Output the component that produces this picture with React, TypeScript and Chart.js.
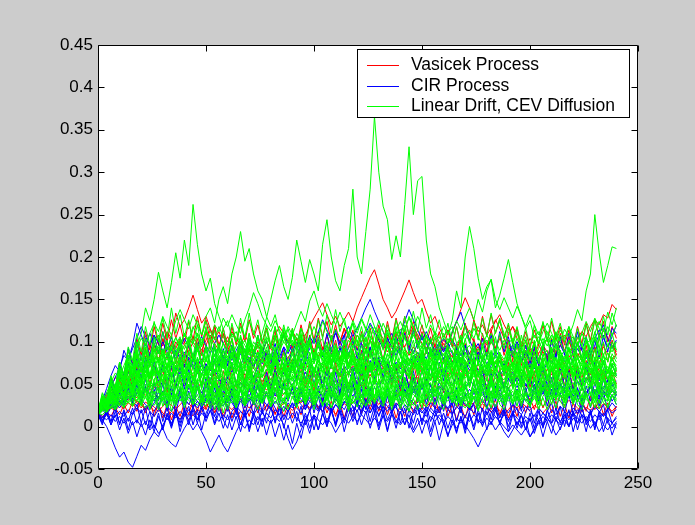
import React, { useEffect, useRef } from "react";
import { Chart, registerables } from "chart.js";

Chart.register(...registerables);

// ---- axes / labels ----
const timeSteps = [
  0, 2, 4, 6, 8, 10, 12, 14, 16, 18,
  20, 22, 24, 26, 28, 30, 32, 34, 36, 38,
  40, 42, 44, 46, 48, 50, 52, 54, 56, 58,
  60, 62, 64, 66, 68, 70, 72, 74, 76, 78,
  80, 82, 84, 86, 88, 90, 92, 94, 96, 98,
  100, 102, 104, 106, 108, 110, 112, 114, 116, 118,
  120, 122, 124, 126, 128, 130, 132, 134, 136, 138,
  140, 142, 144, 146, 148, 150, 152, 154, 156, 158,
  160, 162, 164, 166, 168, 170, 172, 174, 176, 178,
  180, 182, 184, 186, 188, 190, 192, 194, 196, 198,
  200, 202, 204, 206, 208, 210, 212, 214, 216, 218,
  220, 222, 224, 226, 228, 230, 232, 234, 236, 238,
  240,
];
const xTicks = [0, 50, 100, 150, 200, 250];
const yTicks = [-0.05, 0, 0.05, 0.1, 0.15, 0.2, 0.25, 0.3, 0.35, 0.4, 0.45];
const legendLabels = ["Vasicek Process", "CIR Process", "Linear Drift, CEV Diffusion"];
const legendColors = ["#ff0000", "#0000ff", "#00ff00"];

// ---- Linear Drift, CEV Diffusion paths (green) ----
const cev1 = [
  .015,.022,.030,.027,.038,.045,.040,.052,.048,.060,
  .055,.066,.058,.070,.063,.075,.068,.061,.072,.065,
  .078,.070,.082,.074,.066,.079,.071,.085,.077,.090,
  .082,.095,.086,.078,.092,.084,.100,.092,.110,.128,
  .150,.172,.190,.165,.150,.176,.220,.195,.170,.197,
  .180,.160,.215,.244,.200,.172,.160,.190,.210,.280,
  .200,.180,.230,.280,.366,.300,.260,.244,.197,.225,
  .200,.262,.330,.250,.290,.295,.220,.180,.165,.140,
  .125,.110,.118,.098,.105,.090,.096,.084,.092,.080,
  .088,.076,.082,.070,.078,.066,.074,.062,.070,.078,
  .068,.075,.064,.072,.060,.068,.056,.065,.072,.062,
  .070,.058,.066,.075,.064,.072,.060,.068,.056,.064,
  .060,
];
const cev2 = [
  .018,.025,.033,.029,.044,.052,.060,.056,.072,.095,
  .110,.140,.125,.150,.182,.160,.140,.170,.205,.175,
  .220,.190,.262,.215,.180,.160,.175,.145,.130,.115,
  .125,.105,.112,.095,.102,.088,.096,.080,.090,.078,
  .086,.074,.082,.070,.079,.066,.075,.084,.072,.080,
  .068,.077,.064,.073,.085,.076,.090,.082,.070,.078,
  .066,.075,.063,.072,.060,.069,.078,.066,.074,.062,
  .071,.080,.068,.077,.065,.074,.062,.070,.058,.067,
  .075,.064,.072,.060,.069,.057,.066,.074,.063,.071,
  .060,.068,.056,.065,.073,.062,.070,.058,.067,.055,
  .064,.072,.061,.069,.057,.066,.074,.063,.071,.060,
  .068,.057,.065,.073,.062,.070,.058,.066,.055,.063,
  .058,
];
const cev3 = [
  .016,.024,.020,.031,.038,.034,.045,.052,.047,.058,
  .066,.060,.072,.084,.076,.090,.082,.096,.105,.092,
  .110,.098,.115,.125,.108,.130,.140,.122,.150,.165,
  .145,.180,.200,.230,.195,.210,.180,.160,.150,.130,
  .118,.132,.110,.100,.115,.096,.105,.090,.098,.084,
  .092,.080,.088,.074,.082,.095,.084,.076,.088,.072,
  .080,.068,.076,.064,.072,.084,.070,.078,.066,.074,
  .062,.070,.080,.068,.076,.065,.073,.061,.069,.058,
  .066,.075,.063,.071,.082,.070,.078,.067,.074,.062,
  .070,.059,.067,.076,.064,.072,.061,.069,.057,.065,
  .074,.062,.070,.058,.066,.075,.064,.072,.060,.068,
  .077,.065,.073,.061,.069,.057,.065,.074,.062,.070,
  .066,
];
const cev4 = [
  .014,.020,.026,.023,.032,.028,.037,.033,.042,.038,
  .047,.042,.053,.048,.058,.052,.062,.056,.050,.060,
  .054,.064,.058,.052,.062,.056,.068,.061,.055,.065,
  .059,.070,.063,.057,.067,.060,.072,.065,.058,.068,
  .062,.074,.066,.059,.070,.063,.075,.068,.080,.072,
  .084,.076,.088,.080,.072,.085,.077,.090,.082,.095,
  .086,.078,.092,.084,.098,.088,.080,.094,.086,.100,
  .092,.105,.096,.110,.100,.092,.106,.098,.112,.104,
  .118,.108,.125,.160,.140,.200,.236,.210,.175,.150,
  .165,.173,.140,.155,.175,.197,.170,.145,.130,.115,
  .125,.105,.112,.096,.104,.088,.096,.082,.090,.078,
  .086,.074,.082,.070,.078,.066,.074,.063,.071,.060,
  .068,
];
const cev5 = [
  .017,.026,.022,.034,.030,.041,.036,.048,.043,.055,
  .050,.062,.056,.068,.061,.054,.066,.059,.072,.064,
  .057,.069,.062,.075,.067,.060,.072,.065,.078,.070,
  .063,.076,.068,.061,.073,.066,.079,.071,.064,.077,
  .069,.082,.074,.066,.079,.071,.085,.077,.069,.082,
  .074,.088,.079,.071,.084,.076,.068,.081,.073,.086,
  .078,.070,.083,.075,.067,.080,.072,.086,.077,.069,
  .082,.074,.088,.079,.071,.085,.076,.068,.081,.073,
  .086,.078,.070,.083,.075,.088,.080,.072,.085,.077,
  .069,.082,.074,.087,.079,.092,.084,.076,.089,.081,
  .094,.086,.100,.091,.105,.096,.110,.101,.115,.106,
  .120,.138,.125,.160,.180,.250,.205,.170,.190,.212,
  .210,
];
const cev6 = [
  .015,.021,.028,.035,.031,.042,.050,.045,.058,.066,
  .060,.074,.082,.076,.090,.084,.098,.090,.105,.096,
  .110,.102,.118,.108,.095,.112,.104,.120,.112,.128,
  .118,.132,.120,.110,.126,.140,.158,.145,.130,.120,
  .112,.125,.114,.104,.118,.108,.122,.136,.124,.148,
  .160,.142,.130,.145,.132,.120,.135,.122,.110,.125,
  .114,.128,.116,.104,.118,.106,.095,.110,.098,.112,
  .100,.115,.128,.116,.130,.118,.106,.120,.108,.096,
  .110,.098,.112,.125,.114,.128,.140,.126,.150,.135,
  .160,.174,.150,.138,.152,.140,.128,.142,.130,.118,
  .132,.120,.108,.122,.110,.098,.112,.100,.088,.102,
  .092,.106,.095,.084,.098,.110,.124,.112,.135,.120,
  .140,
];
const cev7 = [
  .015,.019,.024,.021,.028,.025,.032,.028,.035,.031,
  .038,.034,.028,.036,.031,.040,.035,.030,.038,.033,
  .027,.035,.030,.025,.033,.028,.036,.031,.026,.034,
  .029,.038,.033,.042,.037,.031,.040,.035,.029,.037,
  .032,.027,.035,.030,.039,.034,.028,.036,.031,.040,
  .035,.044,.038,.033,.042,.036,.031,.039,.034,.028,
  .036,.031,.040,.035,.029,.038,.033,.042,.037,.031,
  .040,.035,.044,.038,.033,.028,.036,.031,.039,.034,
  .028,.037,.032,.026,.035,.030,.039,.034,.042,.037,
  .031,.040,.035,.029,.038,.033,.027,.036,.031,.040,
  .035,.044,.038,.047,.041,.035,.043,.038,.032,.040,
  .035,.029,.038,.033,.041,.036,.030,.039,.034,.042,
  .037,
];
const cev8 = [
  .016,.026,.035,.044,.039,.052,.060,.054,.066,.058,
  .070,.063,.076,.068,.082,.074,.066,.079,.071,.085,
  .077,.069,.082,.074,.088,.079,.071,.064,.076,.068,
  .080,.072,.065,.077,.069,.082,.074,.088,.079,.071,
  .063,.075,.067,.080,.072,.085,.076,.068,.081,.073,
  .065,.078,.070,.083,.075,.090,.081,.073,.086,.077,
  .069,.082,.074,.066,.079,.071,.063,.076,.068,.081,
  .073,.086,.078,.070,.083,.075,.067,.080,.072,.064,
  .077,.069,.082,.074,.087,.078,.070,.063,.076,.068,
  .081,.073,.086,.077,.069,.082,.074,.066,.079,.071,
  .063,.076,.068,.081,.073,.086,.078,.070,.083,.075,
  .067,.080,.072,.085,.077,.069,.082,.074,.087,.079,
  .072,
];
const cev9 = [
  .014,.018,.023,.029,.026,.034,.040,.037,.045,.052,
  .048,.057,.064,.060,.070,.078,.073,.085,.092,.087,
  .096,.104,.098,.110,.102,.095,.088,.094,.084,.077,
  .083,.072,.066,.074,.062,.057,.065,.054,.048,.056,
  .047,.052,.044,.038,.046,.040,.049,.055,.050,.061,
  .068,.063,.074,.082,.076,.088,.095,.089,.102,.094,
  .108,.100,.115,.106,.098,.112,.104,.096,.088,.095,
  .084,.090,.079,.072,.080,.068,.062,.070,.058,.052,
  .060,.050,.045,.053,.041,.048,.038,.044,.035,.042,
  .048,.040,.052,.060,.055,.067,.075,.070,.082,.090,
  .084,.097,.106,.098,.112,.104,.095,.108,.099,.088,
  .096,.085,.078,.088,.080,.072,.082,.074,.066,.075,
  .070,
];
const cev10 = [
  .016,.014,.019,.024,.020,.027,.023,.030,.036,.031,
  .040,.035,.046,.052,.045,.038,.044,.036,.030,.037,
  .043,.050,.044,.056,.063,.057,.050,.058,.052,.045,
  .039,.046,.040,.034,.041,.036,.030,.037,.044,.050,
  .057,.052,.062,.068,.060,.054,.061,.053,.047,.055,
  .048,.042,.050,.044,.038,.046,.052,.058,.051,.064,
  .070,.062,.075,.068,.080,.072,.064,.057,.066,.059,
  .052,.045,.053,.047,.040,.048,.042,.036,.044,.038,
  .032,.040,.035,.043,.050,.044,.052,.060,.054,.047,
  .055,.049,.042,.050,.044,.037,.045,.052,.046,.058,
  .064,.057,.050,.059,.053,.046,.040,.048,.042,.036,
  .044,.038,.046,.053,.047,.056,.062,.055,.049,.057,
  .051,
];
const cev11 = [
  .015,.023,.030,.038,.047,.042,.055,.062,.070,.064,
  .075,.082,.074,.088,.096,.086,.078,.092,.084,.100,
  .091,.106,.096,.088,.100,.114,.105,.094,.086,.098,
  .090,.082,.095,.104,.096,.086,.079,.088,.080,.072,
  .084,.076,.090,.100,.092,.108,.098,.116,.105,.094,
  .086,.096,.084,.075,.086,.078,.070,.082,.092,.104,
  .095,.110,.100,.120,.108,.125,.112,.100,.092,.106,
  .115,.104,.096,.108,.098,.088,.100,.090,.080,.092,
  .084,.096,.088,.078,.090,.102,.114,.104,.118,.108,
  .098,.110,.100,.090,.102,.092,.084,.094,.086,.076,
  .088,.080,.092,.104,.095,.108,.098,.088,.080,.092,
  .084,.096,.110,.100,.090,.104,.094,.084,.096,.088,
  .100,
];
const cev12 = [
  .015,.020,.017,.024,.030,.026,.033,.029,.024,.031,
  .027,.022,.029,.025,.033,.040,.035,.042,.037,.030,
  .036,.031,.026,.033,.029,.036,.042,.037,.044,.039,
  .033,.028,.035,.030,.025,.032,.038,.034,.041,.048,
  .042,.050,.044,.038,.045,.040,.034,.029,.036,.031,
  .026,.033,.028,.035,.041,.036,.030,.037,.032,.027,
  .034,.029,.024,.031,.037,.043,.038,.045,.040,.034,
  .041,.036,.030,.025,.032,.028,.035,.040,.046,.041,
  .035,.030,.037,.032,.027,.022,.029,.035,.031,.038,
  .044,.039,.033,.040,.035,.030,.037,.043,.038,.032,
  .027,.033,.029,.024,.031,.037,.033,.040,.046,.041,
  .036,.030,.037,.032,.027,.034,.040,.035,.030,.036,
  .041,
];
const cev13 = [
  .017,.028,.040,.052,.063,.058,.072,.084,.078,.092,
  .104,.096,.110,.122,.112,.130,.118,.108,.125,.138,
  .126,.115,.132,.120,.108,.124,.112,.102,.118,.106,
  .096,.110,.100,.118,.106,.124,.112,.100,.092,.106,
  .096,.088,.102,.116,.105,.095,.110,.100,.090,.104,
  .118,.107,.124,.112,.102,.115,.105,.096,.110,.122,
  .110,.126,.114,.132,.118,.106,.122,.110,.100,.114,
  .124,.112,.130,.118,.106,.096,.108,.098,.110,.100,
  .092,.104,.094,.086,.098,.110,.100,.116,.106,.096,
  .108,.098,.112,.124,.110,.100,.092,.104,.094,.085,
  .096,.108,.098,.112,.122,.110,.100,.114,.104,.118,
  .106,.096,.110,.124,.112,.128,.116,.104,.118,.108,
  .120,
];
const cev14 = [
  .016,.022,.028,.034,.041,.048,.044,.053,.049,.058,
  .054,.062,.057,.066,.060,.055,.063,.070,.065,.059,
  .067,.061,.056,.064,.072,.066,.060,.068,.062,.057,
  .065,.059,.067,.074,.068,.062,.056,.064,.058,.066,
  .073,.067,.061,.069,.063,.057,.065,.072,.066,.060,
  .068,.062,.070,.077,.071,.065,.059,.067,.061,.069,
  .063,.057,.065,.072,.066,.060,.068,.075,.069,.063,
  .057,.065,.059,.067,.074,.068,.062,.056,.064,.058,
  .066,.060,.068,.075,.069,.063,.057,.065,.059,.067,
  .061,.069,.076,.070,.064,.058,.066,.060,.068,.062,
  .056,.064,.071,.065,.059,.067,.061,.055,.063,.070,
  .064,.058,.066,.073,.067,.061,.055,.063,.057,.065,
  .060,
];
const cev15 = [
  .016,.030,.022,.041,.033,.052,.038,.060,.044,.066,
  .045,.070,.048,.066,.040,.062,.036,.058,.034,.060,
  .038,.064,.042,.070,.046,.068,.040,.062,.035,.057,
  .033,.060,.039,.066,.044,.071,.047,.064,.040,.058,
  .036,.061,.042,.068,.046,.072,.050,.066,.042,.060,
  .038,.063,.041,.059,.035,.057,.033,.061,.040,.066,
  .044,.070,.048,.072,.050,.068,.043,.064,.039,.060,
  .036,.058,.034,.062,.040,.067,.045,.071,.049,.065,
  .042,.060,.038,.063,.041,.069,.046,.066,.043,.061,
  .037,.059,.035,.062,.040,.068,.045,.072,.048,.064,
  .041,.058,.036,.063,.043,.070,.047,.066,.042,.060,
  .038,.064,.042,.068,.045,.062,.039,.061,.044,.067,
  .048,
];
const cev16 = [
  .017,.035,.028,.052,.040,.066,.054,.080,.062,.090,
  .068,.094,.072,.098,.075,.092,.070,.096,.074,.101,
  .078,.104,.080,.099,.074,.095,.071,.092,.068,.090,
  .066,.093,.072,.100,.078,.104,.082,.098,.075,.094,
  .070,.090,.066,.088,.064,.092,.070,.097,.076,.102,
  .080,.106,.084,.100,.076,.096,.072,.092,.068,.088,
  .064,.086,.062,.090,.068,.096,.074,.100,.078,.105,
  .082,.108,.086,.102,.078,.096,.072,.090,.066,.088,
  .064,.092,.070,.098,.076,.104,.080,.100,.074,.094,
  .070,.090,.066,.088,.064,.092,.070,.098,.076,.102,
  .078,.100,.074,.096,.070,.094,.068,.090,.066,.092,
  .070,.098,.076,.102,.080,.106,.084,.100,.076,.096,
  .080,
];
const cev17 = [
  .015,.026,.019,.033,.024,.038,.027,.043,.030,.046,
  .028,.045,.026,.042,.024,.040,.023,.044,.027,.048,
  .030,.050,.032,.047,.028,.044,.025,.041,.022,.040,
  .024,.043,.027,.047,.030,.050,.033,.046,.028,.042,
  .025,.044,.028,.048,.031,.051,.034,.047,.029,.043,
  .026,.041,.024,.039,.022,.040,.025,.044,.028,.047,
  .031,.050,.034,.048,.030,.045,.027,.043,.025,.041,
  .024,.042,.026,.045,.029,.049,.032,.052,.035,.048,
  .030,.046,.028,.043,.025,.041,.023,.044,.027,.047,
  .030,.050,.033,.048,.029,.045,.026,.042,.024,.040,
  .023,.042,.026,.046,.030,.050,.033,.047,.029,.044,
  .026,.043,.025,.041,.023,.044,.027,.048,.031,.045,
  .032,
];
const cev18 = [
  .016,.032,.024,.046,.034,.058,.044,.068,.050,.074,
  .052,.078,.056,.080,.058,.076,.054,.082,.060,.086,
  .062,.088,.066,.092,.070,.094,.072,.098,.076,.100,
  .078,.104,.082,.108,.086,.110,.088,.106,.082,.102,
  .080,.106,.084,.110,.088,.114,.090,.108,.084,.104,
  .082,.100,.078,.096,.074,.098,.076,.102,.080,.106,
  .084,.108,.086,.104,.080,.100,.076,.096,.072,.092,
  .070,.094,.072,.090,.068,.088,.064,.086,.062,.084,
  .060,.082,.058,.080,.056,.078,.054,.080,.058,.082,
  .060,.084,.062,.086,.064,.088,.066,.084,.060,.080,
  .058,.078,.056,.076,.054,.078,.056,.080,.058,.082,
  .060,.084,.062,.086,.064,.082,.058,.078,.056,.074,
  .062,
];
const cev19 = [
  .018,.038,.030,.058,.046,.076,.062,.094,.078,.110,
  .088,.118,.096,.124,.100,.128,.104,.140,.110,.132,
  .106,.126,.098,.120,.094,.118,.090,.114,.088,.116,
  .094,.122,.100,.128,.104,.134,.108,.126,.100,.120,
  .096,.118,.092,.114,.088,.112,.086,.116,.092,.122,
  .098,.126,.104,.132,.110,.138,.112,.128,.104,.122,
  .098,.118,.094,.114,.090,.116,.094,.120,.098,.126,
  .104,.130,.108,.136,.112,.140,.116,.132,.108,.126,
  .102,.122,.098,.118,.094,.120,.098,.124,.102,.128,
  .106,.134,.110,.128,.104,.122,.100,.118,.096,.116,
  .094,.120,.098,.124,.102,.128,.106,.122,.100,.118,
  .096,.116,.094,.120,.098,.126,.104,.130,.108,.134,
  .118,
];
const cev20 = [
  .015,.027,.020,.036,.028,.044,.032,.052,.036,.056,
  .034,.058,.036,.056,.032,.052,.030,.054,.032,.058,
  .036,.060,.038,.056,.032,.054,.030,.051,.028,.050,
  .030,.055,.034,.058,.036,.060,.038,.056,.032,.052,
  .030,.054,.032,.058,.036,.062,.040,.058,.034,.054,
  .032,.056,.034,.052,.030,.050,.028,.054,.032,.058,
  .036,.060,.038,.058,.034,.056,.032,.052,.030,.050,
  .028,.050,.030,.054,.034,.058,.038,.062,.040,.056,
  .034,.054,.032,.050,.028,.052,.030,.056,.034,.060,
  .038,.058,.034,.055,.032,.052,.030,.054,.032,.058,
  .036,.062,.040,.060,.036,.056,.032,.054,.030,.052,
  .030,.054,.034,.058,.036,.060,.038,.056,.034,.052,
  .040,
];
const cev21 = [
  .017,.034,.026,.050,.038,.062,.048,.072,.052,.078,
  .054,.080,.058,.082,.060,.078,.055,.076,.052,.074,
  .050,.076,.054,.080,.058,.084,.060,.080,.056,.076,
  .052,.074,.050,.072,.048,.076,.052,.080,.058,.084,
  .060,.086,.062,.082,.058,.078,.054,.074,.050,.072,
  .048,.074,.052,.078,.056,.082,.060,.086,.062,.080,
  .056,.076,.052,.074,.050,.076,.054,.080,.058,.084,
  .062,.088,.064,.084,.060,.080,.056,.078,.054,.074,
  .050,.072,.048,.074,.052,.078,.056,.082,.060,.086,
  .064,.088,.066,.084,.060,.080,.056,.076,.052,.074,
  .050,.076,.054,.080,.058,.084,.062,.082,.058,.078,
  .054,.074,.052,.076,.056,.080,.060,.084,.062,.080,
  .066,
];
const cev22 = [
  .016,.028,.021,.038,.030,.048,.036,.056,.042,.064,
  .050,.072,.058,.080,.064,.086,.068,.084,.062,.078,
  .056,.074,.050,.068,.044,.064,.040,.058,.036,.054,
  .032,.050,.030,.046,.028,.048,.032,.052,.036,.058,
  .042,.064,.048,.072,.056,.080,.062,.086,.066,.088,
  .064,.084,.060,.078,.054,.072,.048,.066,.044,.062,
  .040,.058,.036,.054,.034,.056,.038,.060,.044,.066,
  .050,.072,.056,.078,.062,.084,.066,.088,.068,.084,
  .062,.080,.056,.074,.050,.068,.046,.064,.042,.060,
  .038,.056,.036,.058,.040,.062,.046,.068,.052,.074,
  .058,.080,.064,.086,.068,.090,.070,.084,.064,.078,
  .058,.074,.052,.068,.048,.064,.044,.060,.040,.058,
  .046,
];
const cev23 = [
  .017,.036,.028,.054,.042,.070,.056,.084,.066,.092,
  .072,.098,.080,.106,.086,.112,.090,.108,.084,.102,
  .080,.098,.076,.094,.072,.090,.068,.086,.064,.084,
  .066,.088,.070,.094,.076,.100,.082,.108,.088,.114,
  .092,.118,.096,.120,.098,.116,.092,.110,.086,.104,
  .080,.098,.074,.092,.070,.088,.066,.086,.068,.090,
  .072,.096,.078,.102,.084,.108,.090,.114,.094,.118,
  .096,.120,.098,.116,.092,.110,.086,.104,.080,.098,
  .076,.094,.072,.090,.068,.088,.070,.092,.074,.098,
  .080,.104,.086,.110,.092,.116,.096,.112,.090,.106,
  .084,.100,.078,.096,.074,.092,.070,.090,.072,.094,
  .076,.100,.082,.106,.088,.112,.092,.116,.094,.110,
  .090,
];
const cev24 = [
  .015,.022,.017,.028,.021,.032,.024,.036,.026,.038,
  .024,.036,.021,.034,.020,.035,.022,.037,.024,.039,
  .026,.040,.027,.038,.024,.036,.021,.033,.019,.032,
  .020,.034,.022,.036,.024,.038,.026,.040,.027,.037,
  .023,.035,.021,.034,.020,.036,.023,.039,.026,.041,
  .028,.040,.025,.037,.022,.035,.020,.034,.021,.036,
  .023,.038,.025,.040,.027,.042,.028,.039,.024,.036,
  .021,.034,.019,.033,.020,.035,.023,.038,.026,.040,
  .027,.041,.028,.038,.024,.036,.022,.034,.020,.033,
  .021,.035,.023,.037,.025,.040,.027,.042,.028,.038,
  .024,.036,.021,.034,.020,.035,.022,.038,.025,.040,
  .027,.041,.028,.038,.024,.035,.021,.034,.022,.037,
  .026,
];
const cev25 = [
  .015,.028,.018,.034,.020,.038,.022,.041,.024,.044,
  .026,.042,.020,.038,.046,.024,.040,.018,.036,.044,
  .022,.040,.026,.046,.030,.024,.042,.020,.038,.016,
  .034,.040,.022,.044,.026,.048,.030,.020,.036,.042,
  .024,.046,.028,.018,.034,.040,.022,.044,.026,.038,
  .020,.036,.042,.024,.046,.028,.022,.040,.018,.034,
  .040,.022,.044,.026,.048,.030,.024,.038,.020,.036,
  .042,.024,.018,.034,.040,.022,.046,.028,.044,.026,
  .020,.038,.042,.024,.046,.028,.022,.036,.018,.034,
  .040,.022,.044,.026,.020,.036,.042,.024,.046,.030,
  .024,.040,.020,.036,.042,.026,.048,.030,.022,.038,
  .044,.026,.020,.036,.040,.022,.044,.028,.024,.038,
  .030,
];
const cev26 = [
  .016,.032,.022,.044,.030,.052,.036,.060,.040,.064,
  .038,.060,.032,.056,.064,.036,.058,.030,.052,.062,
  .036,.060,.040,.066,.044,.034,.058,.032,.054,.028,
  .050,.058,.034,.062,.038,.066,.042,.030,.054,.060,
  .036,.064,.040,.030,.052,.058,.034,.062,.038,.056,
  .032,.054,.060,.036,.064,.040,.032,.058,.030,.052,
  .058,.034,.062,.038,.066,.042,.036,.056,.032,.054,
  .060,.036,.030,.052,.058,.034,.064,.040,.062,.038,
  .032,.056,.060,.036,.064,.040,.034,.054,.030,.052,
  .058,.034,.062,.038,.032,.054,.060,.036,.064,.042,
  .036,.058,.032,.054,.060,.038,.066,.042,.034,.056,
  .062,.038,.032,.054,.058,.034,.062,.040,.036,.056,
  .044,
];
const cev27 = [
  .016,.034,.026,.050,.038,.062,.046,.072,.052,.078,
  .050,.076,.046,.072,.080,.050,.074,.044,.068,.078,
  .050,.076,.054,.082,.058,.048,.074,.046,.070,.042,
  .066,.074,.048,.078,.052,.082,.056,.044,.070,.076,
  .050,.080,.054,.044,.068,.074,.048,.078,.052,.072,
  .046,.070,.076,.050,.080,.054,.046,.074,.044,.068,
  .074,.048,.078,.052,.082,.056,.050,.072,.046,.070,
  .076,.050,.044,.068,.074,.048,.080,.054,.078,.052,
  .046,.072,.076,.050,.080,.054,.048,.070,.044,.068,
  .074,.048,.078,.052,.046,.070,.076,.050,.080,.056,
  .050,.074,.046,.070,.076,.052,.082,.056,.048,.072,
  .078,.052,.046,.070,.074,.048,.078,.054,.050,.072,
  .060,
];
const cev28 = [
  .017,.036,.028,.054,.042,.068,.052,.080,.060,.088,
  .064,.090,.060,.086,.094,.064,.088,.058,.082,.092,
  .064,.090,.068,.096,.072,.062,.088,.060,.084,.056,
  .080,.088,.062,.092,.066,.096,.070,.058,.084,.090,
  .064,.094,.068,.058,.082,.088,.062,.092,.066,.086,
  .060,.084,.090,.064,.094,.068,.060,.088,.058,.082,
  .088,.062,.092,.066,.096,.070,.064,.086,.060,.084,
  .090,.064,.058,.082,.088,.062,.094,.068,.092,.066,
  .060,.086,.090,.064,.094,.068,.062,.084,.058,.082,
  .088,.062,.092,.066,.060,.084,.090,.064,.094,.070,
  .064,.088,.060,.084,.090,.066,.096,.070,.062,.086,
  .092,.066,.060,.084,.088,.062,.092,.068,.064,.086,
  .076,
];
const cev29 = [
  .018,.040,.030,.060,.046,.076,.058,.090,.068,.100,
  .078,.104,.074,.100,.108,.078,.102,.072,.096,.106,
  .078,.104,.082,.110,.086,.076,.102,.074,.098,.070,
  .094,.102,.076,.106,.080,.110,.084,.072,.098,.104,
  .078,.108,.082,.072,.096,.102,.076,.106,.080,.100,
  .074,.098,.104,.078,.108,.082,.074,.102,.072,.096,
  .102,.076,.106,.080,.110,.084,.078,.100,.074,.098,
  .104,.078,.072,.096,.102,.076,.108,.082,.106,.080,
  .074,.100,.104,.078,.108,.082,.076,.098,.072,.096,
  .102,.076,.106,.080,.074,.098,.104,.078,.108,.084,
  .078,.102,.074,.098,.104,.080,.110,.084,.076,.100,
  .106,.080,.074,.098,.102,.076,.106,.082,.078,.100,
  .090,
];
const cev30 = [
  .015,.030,.020,.040,.028,.048,.034,.054,.038,.058,
  .040,.062,.044,.066,.048,.070,.050,.064,.044,.058,
  .038,.056,.034,.052,.030,.050,.032,.054,.036,.058,
  .042,.064,.046,.068,.050,.072,.052,.066,.046,.060,
  .040,.058,.036,.054,.032,.050,.030,.052,.034,.056,
  .038,.060,.044,.066,.048,.070,.052,.068,.048,.062,
  .042,.060,.038,.056,.034,.052,.030,.050,.032,.054,
  .036,.058,.040,.062,.046,.068,.050,.072,.054,.066,
  .046,.062,.042,.058,.036,.054,.032,.052,.034,.056,
  .038,.060,.042,.064,.048,.070,.052,.068,.046,.062,
  .042,.058,.036,.054,.032,.050,.030,.054,.036,.058,
  .040,.062,.046,.066,.050,.070,.048,.064,.044,.060,
  .046,
];
const cev31 = [
  .016,.036,.026,.052,.040,.064,.050,.076,.058,.084,
  .064,.088,.070,.092,.072,.090,.068,.084,.062,.080,
  .058,.078,.054,.074,.050,.072,.052,.076,.056,.080,
  .060,.084,.066,.090,.070,.094,.072,.088,.066,.082,
  .060,.078,.056,.074,.052,.070,.050,.074,.054,.078,
  .058,.082,.064,.088,.068,.092,.072,.090,.068,.084,
  .062,.080,.058,.076,.054,.072,.050,.070,.052,.074,
  .056,.078,.060,.084,.066,.090,.070,.094,.074,.088,
  .066,.084,.062,.080,.058,.076,.054,.072,.050,.074,
  .054,.078,.060,.084,.066,.090,.070,.088,.066,.082,
  .062,.080,.058,.076,.054,.072,.052,.076,.056,.080,
  .060,.084,.066,.090,.070,.092,.068,.086,.064,.082,
  .068,
];
const cev32 = [
  .015,.029,.021,.037,.027,.043,.031,.048,.034,.052,
  .032,.050,.028,.048,.054,.030,.050,.026,.046,.052,
  .030,.050,.034,.054,.036,.028,.048,.026,.046,.024,
  .042,.048,.028,.052,.030,.054,.034,.026,.046,.050,
  .030,.054,.034,.026,.044,.050,.028,.052,.032,.048,
  .026,.046,.050,.030,.054,.034,.026,.048,.024,.044,
  .050,.028,.052,.032,.056,.036,.030,.048,.026,.046,
  .050,.030,.024,.044,.048,.028,.054,.034,.052,.032,
  .026,.048,.050,.030,.054,.034,.028,.046,.024,.044,
  .050,.028,.052,.032,.026,.046,.050,.030,.054,.036,
  .030,.048,.026,.046,.050,.032,.056,.036,.028,.048,
  .052,.032,.026,.046,.048,.028,.052,.034,.030,.048,
  .038,
];

// ---- Vasicek paths (red) ----
const vasicek1 = [
  .015,.024,.033,.042,.050,.046,.058,.066,.061,.072,
  .080,.074,.088,.095,.086,.100,.112,.104,.134,.118,
  .126,.140,.155,.138,.122,.130,.115,.104,.112,.098,
  .106,.092,.084,.096,.088,.078,.086,.074,.082,.070,
  .078,.066,.074,.062,.070,.080,.072,.064,.075,.067,
  .058,.066,.074,.068,.060,.070,.062,.055,.064,.072,
  .066,.058,.067,.075,.069,.061,.070,.063,.056,.065,
  .073,.067,.059,.068,.076,.070,.062,.055,.064,.058,
  .066,.074,.068,.060,.070,.063,.056,.065,.073,.067,
  .059,.068,.062,.055,.064,.072,.066,.058,.067,.061,
  .054,.063,.071,.065,.057,.066,.060,.053,.062,.070,
  .064,.057,.066,.074,.068,.060,.069,.062,.055,.063,
  .058,
];
const vasicek2 = [
  .016,.022,.029,.036,.032,.041,.048,.044,.053,.060,
  .056,.065,.060,.070,.064,.074,.068,.078,.071,.082,
  .075,.086,.079,.070,.080,.073,.066,.076,.069,.080,
  .072,.084,.077,.088,.080,.092,.084,.096,.088,.100,
  .092,.104,.096,.108,.100,.112,.104,.095,.108,.118,
  .128,.137,.146,.132,.120,.130,.118,.126,.135,.124,
  .140,.152,.164,.176,.185,.168,.150,.140,.128,.136,
  .148,.160,.173,.158,.145,.150,.135,.122,.130,.116,
  .106,.114,.100,.092,.102,.094,.086,.096,.088,.080,
  .090,.082,.074,.084,.076,.068,.078,.070,.062,.072,
  .064,.074,.067,.058,.068,.061,.070,.063,.056,.066,
  .059,.068,.062,.054,.064,.072,.066,.058,.067,.060,
  .065,
];
const vasicek3 = [
  .014,.019,.025,.021,.028,.034,.030,.037,.043,.039,
  .046,.041,.050,.045,.055,.049,.058,.052,.046,.054,
  .048,.057,.051,.045,.053,.047,.056,.062,.055,.049,
  .058,.052,.046,.055,.062,.056,.050,.059,.053,.061,
  .055,.064,.058,.052,.060,.067,.061,.055,.064,.058,
  .066,.060,.054,.063,.070,.064,.058,.067,.061,.069,
  .063,.072,.066,.060,.069,.076,.070,.064,.073,.067,
  .076,.070,.080,.074,.084,.078,.090,.084,.096,.090,
  .102,.096,.110,.124,.138,.152,.140,.125,.112,.120,
  .108,.116,.124,.132,.120,.110,.118,.104,.094,.100,
  .088,.096,.084,.076,.086,.078,.070,.080,.072,.064,
  .072,.065,.058,.067,.061,.070,.063,.056,.065,.059,
  .066,
];
const vasicek4 = [
  .015,.020,.026,.023,.030,.027,.035,.031,.038,.034,
  .041,.037,.044,.040,.034,.041,.047,.042,.036,.043,
  .038,.045,.051,.046,.040,.047,.042,.036,.043,.049,
  .044,.038,.045,.052,.047,.041,.048,.054,.049,.043,
  .050,.045,.039,.046,.053,.048,.042,.049,.056,.051,
  .045,.052,.047,.041,.048,.055,.050,.044,.051,.058,
  .053,.047,.054,.061,.056,.050,.057,.064,.058,.052,
  .059,.066,.060,.054,.061,.068,.062,.056,.063,.070,
  .064,.058,.065,.072,.066,.060,.067,.074,.068,.062,
  .069,.076,.070,.078,.072,.080,.074,.082,.076,.084,
  .078,.086,.080,.088,.082,.092,.086,.096,.090,.100,
  .094,.104,.112,.106,.118,.126,.120,.132,.128,.144,
  .138,
];
const vasicek5 = [
  .015,.012,.017,.022,.019,.025,.021,.028,.024,.030,
  .026,.020,.027,.023,.018,.024,.029,.025,.020,.026,
  .031,.027,.022,.014,.020,.026,.022,.017,.023,.029,
  .025,.020,.026,.032,.027,.022,.028,.024,.019,.025,
  .021,.016,.022,.028,.024,.019,.025,.031,.027,.022,
  .028,.023,.018,.024,.020,.015,.021,.027,.023,.029,
  .034,.030,.025,.031,.027,.022,.017,.023,.029,.025,
  .030,.036,.032,.027,.033,.028,.023,.029,.024,.019,
  .025,.021,.016,.022,.028,.024,.030,.026,.021,.027,
  .022,.017,.023,.019,.014,.020,.026,.022,.028,.024,
  .019,.025,.021,.016,.022,.028,.034,.030,.025,.031,
  .027,.022,.017,.023,.019,.025,.021,.027,.023,.018,
  .024,
];
const vasicek6 = [
  .016,.026,.037,.047,.058,.052,.064,.074,.068,.080,
  .090,.082,.096,.088,.104,.095,.110,.100,.092,.104,
  .096,.088,.100,.092,.084,.096,.108,.098,.090,.082,
  .094,.086,.078,.090,.082,.074,.086,.096,.088,.100,
  .092,.084,.076,.088,.080,.092,.104,.096,.086,.098,
  .090,.082,.094,.086,.098,.110,.100,.116,.106,.096,
  .108,.098,.090,.102,.094,.106,.096,.088,.100,.112,
  .102,.094,.106,.118,.108,.098,.090,.102,.094,.086,
  .098,.090,.082,.094,.106,.120,.110,.100,.092,.104,
  .096,.112,.126,.116,.104,.094,.086,.096,.088,.080,
  .092,.084,.096,.088,.080,.092,.084,.096,.108,.100,
  .090,.082,.094,.086,.078,.090,.102,.114,.104,.096,
  .088,
];
const vasicek7 = [
  .015,.021,.017,.024,.030,.026,.034,.040,.036,.028,
  .022,.029,.025,.018,.024,.016,.012,.018,.014,.009,
  .015,.008,.014,.020,.017,.024,.030,.026,.033,.040,
  .036,.044,.050,.045,.052,.046,.040,.047,.042,.036,
  .043,.038,.032,.039,.045,.040,.034,.028,.035,.030,
  .036,.042,.037,.044,.050,.045,.039,.046,.052,.048,
  .041,.035,.030,.037,.032,.026,.033,.028,.035,.041,
  .036,.043,.038,.045,.052,.047,.055,.049,.042,.048,
  .042,.036,.030,.024,.030,.026,.020,.027,.033,.028,
  .035,.041,.036,.043,.050,.045,.052,.058,.052,.046,
  .053,.047,.041,.048,.042,.036,.043,.038,.031,.037,
  .032,.038,.044,.040,.047,.053,.048,.042,.036,.042,
  .038,
];
const vasicek8 = [
  .014,.022,.031,.040,.036,.046,.055,.050,.060,.070,
  .064,.075,.085,.078,.090,.082,.094,.086,.100,.092,
  .084,.096,.106,.098,.090,.102,.114,.104,.096,.108,
  .100,.112,.104,.096,.108,.098,.090,.100,.092,.084,
  .096,.108,.118,.110,.100,.092,.104,.096,.088,.098,
  .090,.082,.094,.086,.078,.088,.080,.092,.084,.076,
  .086,.078,.090,.082,.092,.104,.096,.108,.100,.090,
  .100,.092,.084,.094,.086,.078,.088,.080,.072,.082,
  .074,.084,.076,.088,.080,.072,.082,.074,.086,.078,
  .088,.100,.092,.104,.096,.108,.118,.110,.100,.092,
  .104,.096,.086,.096,.088,.080,.090,.082,.074,.084,
  .076,.086,.078,.090,.082,.074,.084,.094,.086,.078,
  .086,
];
const vasicek9 = [
  .015,.030,.022,.044,.034,.056,.040,.066,.046,.072,
  .048,.076,.050,.072,.044,.068,.040,.070,.046,.078,
  .052,.080,.056,.076,.048,.070,.042,.068,.040,.066,
  .042,.072,.048,.078,.054,.082,.056,.074,.048,.068,
  .044,.070,.046,.074,.050,.078,.054,.072,.046,.066,
  .040,.068,.044,.072,.048,.076,.050,.070,.044,.064,
  .040,.066,.044,.072,.050,.078,.054,.074,.048,.068,
  .042,.070,.046,.076,.052,.080,.054,.072,.046,.066,
  .040,.064,.038,.066,.042,.072,.048,.076,.050,.070,
  .044,.068,.042,.070,.046,.076,.052,.078,.050,.072,
  .046,.066,.040,.064,.038,.068,.044,.074,.048,.070,
  .044,.072,.048,.078,.052,.074,.046,.068,.042,.066,
  .050,
];
const vasicek10 = [
  .016,.036,.028,.056,.044,.074,.060,.090,.074,.104,
  .084,.112,.090,.118,.096,.122,.100,.126,.104,.120,
  .098,.124,.102,.130,.106,.126,.100,.120,.094,.116,
  .092,.118,.096,.122,.100,.126,.104,.120,.098,.116,
  .094,.114,.090,.112,.088,.116,.094,.120,.098,.124,
  .102,.128,.106,.124,.100,.120,.096,.116,.092,.114,
  .090,.112,.088,.116,.094,.120,.098,.124,.102,.128,
  .106,.130,.108,.124,.102,.120,.098,.116,.094,.112,
  .090,.114,.094,.118,.098,.122,.100,.126,.104,.130,
  .108,.132,.110,.126,.104,.120,.098,.116,.094,.112,
  .092,.114,.096,.120,.100,.124,.102,.118,.096,.114,
  .094,.118,.098,.122,.102,.126,.106,.124,.100,.118,
  .104,
];
const vasicek11 = [
  .015,.010,.018,.012,.022,.014,.026,.016,.030,.018,
  .032,.016,.030,.012,.028,.010,.026,.008,.024,.012,
  .028,.014,.032,.018,.036,.020,.034,.016,.030,.012,
  .026,.010,.024,.008,.026,.012,.030,.016,.034,.018,
  .032,.014,.028,.012,.026,.010,.028,.014,.032,.018,
  .036,.020,.034,.016,.030,.012,.028,.010,.026,.012,
  .030,.016,.034,.020,.036,.018,.032,.014,.028,.010,
  .026,.012,.030,.016,.034,.020,.038,.022,.034,.016,
  .030,.012,.026,.008,.024,.010,.028,.014,.032,.018,
  .036,.020,.032,.014,.028,.010,.026,.012,.030,.016,
  .034,.020,.038,.022,.034,.016,.030,.012,.026,.010,
  .028,.014,.032,.018,.036,.020,.032,.014,.028,.012,
  .024,
];
const vasicek12 = [
  .016,.032,.024,.048,.036,.062,.048,.076,.058,.086,
  .064,.092,.070,.098,.076,.104,.080,.100,.074,.094,
  .070,.096,.076,.104,.084,.112,.090,.118,.094,.110,
  .086,.104,.080,.098,.074,.092,.068,.090,.066,.088,
  .064,.086,.062,.090,.068,.096,.074,.102,.080,.108,
  .086,.112,.090,.108,.084,.102,.078,.096,.072,.092,
  .068,.090,.066,.094,.072,.100,.078,.106,.084,.110,
  .088,.114,.092,.118,.096,.112,.088,.106,.082,.100,
  .076,.096,.072,.094,.070,.098,.076,.104,.082,.110,
  .088,.114,.092,.108,.084,.102,.078,.096,.072,.090,
  .068,.092,.072,.098,.078,.104,.084,.110,.088,.106,
  .082,.100,.076,.096,.072,.094,.070,.098,.076,.102,
  .084,
];

// ---- CIR paths (blue) ----
const cir1 = [
  .015,.008,0,-.012,-.025,-.036,-.030,-.042,-.048,-.035,
  -.022,-.028,-.015,-.006,-.012,.002,.010,.004,.014,.008,
  .018,.012,.022,.030,.024,.034,.028,.020,.028,.036,
  .030,.040,.034,.044,.038,.030,.038,.046,.040,.050,
  .044,.036,.044,.052,.046,.038,.046,.040,.048,.042,
  .034,.042,.036,.046,.040,.032,.040,.048,.042,.036,
  .044,.052,.046,.038,.046,.040,.032,.040,.034,.042,
  .050,.044,.036,.044,.038,.046,.054,.048,.040,.048,
  .042,.034,.042,.036,.028,.036,.044,.038,.046,.040,
  .032,.040,.048,.042,.050,.044,.036,.044,.038,.030,
  .038,.046,.040,.048,.056,.050,.042,.050,.044,.036,
  .044,.038,.030,.038,.046,.040,.048,.042,.034,.042,
  .036,
];
const cir2 = [
  .016,.030,.045,.060,.072,.065,.090,.078,.096,.122,
  .108,.095,.110,.098,.086,.100,.088,.076,.090,.080,
  .070,.082,.072,.062,.074,.064,.055,.066,.058,.048,
  .058,.050,.042,.052,.044,.036,.046,.038,.030,.040,
  .032,.022,.012,.002,-.014,-.027,-.018,-.004,.008,.018,
  .028,.020,.032,.042,.034,.046,.038,.050,.042,.054,
  .046,.058,.050,.042,.054,.046,.058,.050,.062,.054,
  .046,.058,.050,.040,.052,.044,.056,.048,.040,.052,
  .044,.056,.048,.060,.052,.044,.056,.048,.040,.050,
  .042,.054,.046,.058,.050,.062,.054,.046,.058,.050,
  .042,.054,.046,.038,.050,.042,.054,.046,.058,.050,
  .042,.054,.046,.058,.050,.040,.052,.044,.056,.048,
  .054,
];
const cir3 = [
  .014,.022,.032,.026,.038,.048,.042,.055,.048,.062,
  .054,.066,.058,.070,.062,.074,.066,.058,.070,.062,
  .074,.066,.078,.070,.062,.074,.066,.080,.072,.084,
  .076,.088,.080,.072,.084,.076,.090,.082,.074,.086,
  .078,.090,.082,.094,.086,.098,.090,.102,.094,.106,
  .098,.112,.126,.114,.102,.110,.098,.108,.118,.106,
  .116,.128,.140,.150,.136,.124,.112,.100,.110,.098,
  .110,.124,.138,.126,.114,.102,.112,.100,.090,.100,
  .088,.098,.086,.076,.086,.076,.066,.076,.066,.058,
  .066,.056,.064,.054,.046,.056,.048,.058,.050,.042,
  .052,.044,.054,.046,.038,.048,.040,.050,.042,.034,
  .044,.036,.046,.038,.048,.040,.032,.042,.034,.044,
  .038,
];
const cir4 = [
  .015,.010,.018,.026,.020,.030,.024,.034,.028,.040,
  .034,.046,.038,.050,.042,.054,.046,.038,.048,.040,
  .052,.044,.056,.048,.040,.050,.042,.054,.046,.058,
  .050,.042,.052,.044,.056,.048,.060,.052,.044,.056,
  .048,.060,.052,.064,.056,.048,.060,.052,.064,.056,
  .068,.060,.052,.064,.056,.068,.060,.072,.064,.056,
  .068,.060,.072,.064,.076,.068,.080,.072,.064,.076,
  .068,.080,.072,.084,.076,.088,.080,.092,.084,.096,
  .104,.096,.112,.124,.135,.118,.102,.090,.098,.084,
  .074,.082,.070,.060,.068,.056,.064,.052,.060,.048,
  .056,.044,.052,.040,.048,.036,.044,.052,.040,.048,
  .036,.044,.032,.040,.048,.038,.046,.034,.042,.030,
  .038,
];
const cir5 = [
  .016,.012,.008,.014,.006,.012,.004,.010,.002,.008,
  0,.006,-.004,.002,-.008,-.002,-.014,-.020,-.024,-.012,
  -.002,.006,-.004,.004,-.006,-.016,-.030,-.020,-.010,-.022,
  -.030,-.018,-.006,.004,-.002,.008,.002,.012,.006,.016,
  .010,.020,.014,.024,.018,.028,.022,.016,.026,.020,
  .030,.024,.018,.028,.022,.032,.026,.020,.030,.024,
  .018,.028,.022,.016,.026,.020,.030,.024,.018,.028,
  .022,.016,.026,.020,.014,.024,.018,.028,.022,.016,
  .026,.020,.014,.024,.018,.012,.022,.016,.026,.020,
  .014,.024,.018,.012,.022,.016,.026,.020,.014,.024,
  .018,.012,.022,.016,.010,.020,.014,.024,.018,.012,
  .022,.016,.026,.020,.014,.024,.018,.012,.022,.016,
  .020,
];
const cir6 = [
  .015,.024,.018,.028,.022,.032,.026,.036,.030,.040,
  .034,.044,.038,.030,.040,.034,.026,.036,.030,.040,
  .034,.026,.036,.030,.022,.032,.026,.036,.030,.024,
  .034,.028,.020,.030,.024,.034,.028,.022,.032,.026,
  .020,.030,.024,.018,.028,.022,.032,.026,.020,.030,
  .024,.018,.028,.022,.016,.026,.020,.030,.024,.018,
  .028,.022,.016,.026,.020,.014,.024,.018,.028,.022,
  .016,.026,.020,.014,.024,.018,.012,.022,.016,.010,
  .004,.012,.006,-.002,.008,.002,-.006,-.014,-.024,-.012,
  -.002,.006,-.004,.004,-.006,-.013,-.004,.006,-.002,.008,
  -.012,-.002,.008,0,.010,.002,-.010,-.002,.008,0,
  .010,.004,.014,.008,-.002,.006,-.006,.002,-.004,.004,
  -.002,
];
const cir7 = [
  .014,.008,.014,.006,.012,.018,.012,.020,.014,.022,
  .016,.024,.018,.012,.020,.014,.008,.016,.010,.018,
  .012,.020,.014,.008,.016,.010,.018,.012,.006,.014,
  .008,.016,.010,.018,.012,.020,.014,.008,.016,.010,
  .004,.012,.006,.014,.008,.016,.010,.004,.012,.006,
  .014,.008,.002,.010,.004,-.007,.002,.010,.004,.012,
  .006,.014,.008,.002,.010,.004,.012,.006,.014,.008,
  .002,.010,.004,-.007,.002,.010,.004,.012,.006,.014,
  .008,-.010,.002,.010,.004,.012,.006,.014,.008,.002,
  .010,.004,.012,.006,.014,.008,.016,.010,.004,.012,
  .006,.014,.008,.016,.010,.004,.012,.006,.014,.008,
  .016,.010,.004,.012,.006,.014,.008,.016,.010,.004,
  .010,
];
const cir8 = [
  .016,.028,.040,.034,.048,.058,.052,.064,.056,.068,
  .060,.072,.080,.070,.062,.074,.084,.076,.066,.078,
  .088,.078,.068,.080,.072,.062,.074,.084,.094,.082,
  .072,.064,.076,.086,.078,.068,.058,.070,.080,.090,
  .080,.070,.082,.074,.064,.076,.086,.096,.086,.076,
  .066,.078,.070,.060,.072,.082,.092,.084,.074,.064,
  .076,.086,.098,.088,.078,.068,.080,.070,.082,.092,
  .084,.074,.064,.076,.088,.080,.070,.060,.072,.082,
  .094,.084,.074,.086,.078,.066,.078,.090,.080,.070,
  .060,.072,.084,.076,.066,.078,.090,.100,.090,.080,
  .070,.082,.074,.064,.076,.088,.098,.088,.078,.068,
  .080,.092,.082,.072,.084,.096,.108,.120,.104,.092,
  .102,
];
const cir9 = [
  .015,.020,.014,.022,.028,.022,.030,.036,.030,.024,
  .032,.026,.020,.028,.036,.030,.024,.018,.026,.034,
  .040,.034,.028,.022,.030,.038,.032,.026,.034,.042,
  .036,.030,.024,.018,.012,.020,.028,.022,.016,.024,
  .032,.040,.034,.028,.036,.044,.038,.032,.026,.034,
  .042,.036,.030,.024,.018,.026,.020,.028,.036,.030,
  .024,.018,.026,.034,.028,.022,.030,.038,.032,.040,
  .046,.040,.034,.028,.022,.016,.024,.018,.012,.020,
  .028,.022,.030,.038,.032,.026,.020,.028,.036,.030,
  .024,.018,.012,.006,0,-.006,.002,-.004,-.010,-.002,
  -.012,-.004,.004,.012,.006,.014,.008,.002,.010,.018,
  .012,.020,.014,.008,.016,.024,.018,.012,.020,.028,
  .022,
];
const cir10 = [
  .014,.024,.034,.046,.058,.070,.084,.078,.092,.104,
  .118,.106,.096,.108,.098,.088,.100,.090,.080,.092,
  .104,.094,.084,.096,.106,.096,.086,.098,.108,.098,
  .088,.078,.090,.100,.090,.080,.070,.082,.092,.084,
  .074,.086,.096,.108,.098,.088,.100,.090,.080,.092,
  .104,.094,.084,.096,.086,.076,.088,.098,.110,.100,
  .090,.100,.110,.122,.112,.102,.092,.104,.094,.084,
  .096,.106,.096,.086,.098,.108,.098,.088,.078,.090,
  .080,.092,.102,.094,.084,.096,.086,.076,.088,.078,
  .068,.080,.090,.082,.072,.084,.096,.086,.076,.088,
  .078,.068,.080,.092,.084,.074,.086,.096,.086,.076,
  .088,.098,.090,.080,.092,.104,.114,.104,.094,.106,
  .120,
];
const cir11 = [
  .014,.004,.016,.002,.018,.004,.020,.006,.022,.004,
  .020,.002,.018,-.002,.016,-.004,.014,-.002,.016,0,
  .018,.002,.020,.004,.022,.006,.020,.002,.016,-.002,
  .014,-.004,.012,-.006,.014,-.002,.018,.002,.020,.004,
  .022,.006,.024,.008,.020,.004,.018,0,.016,-.002,
  .014,-.004,.016,0,.018,.002,.020,.004,.022,.006,
  .020,.002,.018,-.002,.016,-.004,.014,-.006,.016,-.002,
  .018,.002,.020,.004,.022,.006,.024,.006,.020,.002,
  .016,-.002,.014,-.006,.012,-.008,.014,-.004,.016,0,
  .018,.002,.020,.004,.018,0,.016,-.002,.014,-.004,
  .016,-.002,.018,.002,.020,.004,.022,.004,.018,0,
  .016,-.004,.014,-.006,.016,-.002,.018,.002,.020,.004,
  .012,
];
const cir12 = [
  .015,.028,.014,.034,.018,.040,.022,.046,.026,.050,
  .028,.048,.024,.044,.020,.042,.018,.040,.016,.038,
  .018,.042,.022,.046,.026,.050,.028,.046,.022,.040,
  .018,.038,.014,.036,.012,.034,.014,.038,.018,.042,
  .022,.046,.026,.050,.030,.048,.024,.042,.020,.040,
  .016,.036,.014,.038,.018,.042,.022,.046,.026,.048,
  .024,.044,.020,.040,.016,.038,.014,.036,.016,.040,
  .020,.044,.024,.048,.028,.050,.026,.044,.020,.040,
  .018,.038,.014,.036,.016,.040,.020,.044,.024,.046,
  .022,.042,.018,.040,.016,.038,.014,.036,.018,.042,
  .022,.046,.026,.048,.024,.044,.020,.040,.016,.038,
  .014,.036,.018,.040,.022,.044,.024,.040,.020,.038,
  .026,
];
const cir13 = [
  .016,.034,.024,.050,.036,.064,.046,.074,.052,.080,
  .056,.082,.058,.078,.052,.074,.048,.072,.046,.070,
  .044,.068,.042,.070,.046,.074,.050,.078,.054,.080,
  .056,.076,.050,.072,.046,.068,.042,.066,.040,.064,
  .042,.068,.046,.072,.050,.076,.054,.080,.056,.074,
  .050,.070,.046,.066,.042,.064,.040,.066,.044,.070,
  .048,.074,.052,.078,.056,.082,.058,.076,.052,.072,
  .048,.068,.044,.066,.042,.068,.046,.072,.050,.076,
  .054,.080,.058,.076,.052,.072,.048,.068,.044,.066,
  .042,.064,.040,.066,.044,.070,.048,.074,.052,.078,
  .056,.076,.052,.072,.048,.070,.046,.068,.044,.066,
  .042,.068,.046,.072,.050,.076,.054,.078,.052,.074,
  .060,
];
const cir14 = [
  .015,.006,.018,.002,.014,-.004,.010,-.008,.006,-.012,
  .004,-.010,.008,-.006,.012,-.002,.016,.002,.020,.004,
  .022,.006,.024,.008,.026,.010,.028,.012,.026,.008,
  .024,.006,.020,.002,.016,-.002,.012,-.006,.010,-.010,
  .008,-.012,.004,-.016,.002,-.020,.004,-.014,.008,-.008,
  .012,-.004,.016,0,.020,.004,.024,.008,.028,.012,
  .030,.014,.032,.016,.028,.012,.024,.008,.020,.004,
  .018,.002,.014,-.004,.010,-.008,.008,-.012,.006,-.016,
  .004,-.012,.008,-.008,.012,-.004,.016,0,.020,.004,
  .024,.008,.026,.010,.022,.006,.018,.002,.014,-.004,
  .010,-.008,.008,-.012,.006,-.008,.010,-.004,.014,0,
  .018,.004,.022,.006,.018,.002,.014,-.006,.010,-.010,
  .004,
];
const cir15 = [
  .016,.036,.028,.058,.044,.076,.060,.092,.072,.100,
  .078,.104,.082,.108,.086,.112,.090,.106,.084,.100,
  .080,.102,.078,.098,.074,.096,.072,.094,.070,.092,
  .072,.096,.076,.100,.080,.104,.084,.108,.086,.102,
  .080,.098,.076,.094,.072,.092,.070,.096,.074,.100,
  .078,.104,.082,.110,.088,.114,.090,.108,.084,.102,
  .080,.098,.076,.094,.072,.096,.076,.100,.080,.106,
  .084,.110,.088,.114,.092,.108,.086,.102,.080,.098,
  .076,.094,.072,.092,.070,.096,.074,.100,.078,.104,
  .082,.108,.086,.112,.088,.106,.082,.100,.078,.096,
  .074,.094,.072,.098,.076,.102,.080,.106,.084,.110,
  .088,.112,.090,.106,.084,.102,.080,.108,.088,.116,
  .110,
];
const cir16 = [
  .015,.030,.018,.036,.024,.044,.028,.050,.032,.054,
  .034,.056,.036,.052,.030,.050,.028,.048,.026,.046,
  .026,.050,.030,.054,.034,.058,.036,.054,.030,.050,
  .028,.046,.024,.044,.022,.046,.026,.050,.030,.054,
  .032,.056,.034,.052,.030,.048,.026,.046,.024,.044,
  .024,.048,.028,.052,.032,.056,.036,.058,.034,.052,
  .030,.048,.026,.046,.024,.044,.022,.046,.026,.050,
  .030,.054,.034,.058,.036,.054,.032,.050,.028,.048,
  .026,.044,.024,.046,.028,.050,.032,.054,.036,.056,
  .034,.052,.030,.048,.026,.046,.024,.044,.022,.046,
  .026,.050,.030,.054,.034,.058,.036,.052,.032,.048,
  .028,.046,.026,.048,.030,.052,.034,.056,.036,.052,
  .040,
];
const cir17 = [
  .014,.002,.020,.006,.024,.002,.018,-.004,.016,.026,
  .004,.022,-.002,.018,.028,.006,.024,0,.020,-.006,
  .014,.024,.002,.020,-.004,.016,.026,.004,.022,.008,
  -.002,.018,.024,.002,.020,-.006,.014,.022,0,.018,
  .026,.004,.022,-.002,.018,.028,.006,.024,.002,.020,
  -.004,.016,.026,.004,.022,0,.018,-.006,.014,.024,
  .002,.020,.028,.006,.024,0,.020,-.004,.016,.026,
  .004,.022,-.002,.018,.026,.002,.020,-.006,.014,.024,
  .002,.020,.028,.006,.024,-.002,.018,.026,.004,.022,
  -.004,.016,.024,.002,.020,-.006,.014,.022,0,.018,
  .026,.004,.022,-.002,.018,.028,.006,.024,0,.020,
  -.006,.014,.024,.002,.020,-.004,.016,.026,.004,-.002,
  .006,
];

const vasicekPaths = [
  vasicek1, vasicek2, vasicek3, vasicek4, vasicek5, vasicek6,
  vasicek7, vasicek8, vasicek9, vasicek10, vasicek11, vasicek12,
];
const cirPaths = [
  cir1, cir2, cir3, cir4, cir5, cir6, cir7, cir8, cir9,
  cir10, cir11, cir12, cir13, cir14, cir15, cir16, cir17,
];
const cevPaths = [
  cev1, cev2, cev3, cev4, cev5, cev6, cev7, cev8, cev9, cev10, cev11,
  cev12, cev13, cev14, cev15, cev16, cev17, cev18, cev19, cev20, cev21,
  cev22, cev23, cev24, cev25, cev26, cev27, cev28, cev29, cev30, cev31, cev32,
];

const FONT_FAMILY = '"Liberation Sans", Arial, Helvetica, sans-serif';

function toPoints(ys: number[]) {
  const n = Math.min(ys.length, timeSteps.length);
  const pts: { x: number; y: number }[] = [];
  for (let i = 0; i < n; i++) pts.push({ x: timeSteps[i], y: ys[i] });
  return pts;
}

function makeSets(paths: number[][], label: string, color: string) {
  return paths.map((p) => ({
    label,
    data: toPoints(p),
    borderColor: color,
    backgroundColor: color,
    borderWidth: 1,
    pointRadius: 0,
    pointHoverRadius: 0,
    tension: 0,
    fill: false,
  }));
}

const matlabFrame = {
  id: "matlabFrame",
  beforeDraw(chart: any) {
    const { ctx, width, height, chartArea: a } = chart;
    ctx.save();
    ctx.fillStyle = "#cccccc";
    ctx.fillRect(0, 0, width, height);
    ctx.fillStyle = "#ffffff";
    ctx.fillRect(a.left, a.top, a.right - a.left, a.bottom - a.top);
    ctx.restore();
  },
  afterDraw(chart: any) {
    const { ctx, chartArea: a, scales } = chart;
    const L = Math.round(a.left) + 0.5;
    const R = Math.round(a.right) - 0.5;
    const T = Math.round(a.top) + 0.5;
    const B = Math.round(a.bottom) - 0.5;
    const tick = 6;
    ctx.save();
    ctx.strokeStyle = "#000";
    ctx.lineWidth = 1;
    ctx.beginPath();
    ctx.rect(L, T, R - L, B - T);
    for (const v of xTicks) {
      const px = Math.round(scales.x.getPixelForValue(v)) + 0.5;
      ctx.moveTo(px, B);
      ctx.lineTo(px, B - tick);
      ctx.moveTo(px, T);
      ctx.lineTo(px, T + tick);
    }
    for (const v of yTicks) {
      const py = Math.round(scales.y.getPixelForValue(v)) + 0.5;
      ctx.moveTo(L, py);
      ctx.lineTo(L + tick, py);
      ctx.moveTo(R, py);
      ctx.lineTo(R - tick, py);
    }
    ctx.stroke();

    // legend box inside the axes (top-right), MATLAB style
    ctx.font = `17.5px ${FONT_FAMILY}`;
    const textW = Math.max(...legendLabels.map((t) => ctx.measureText(t).width));
    const boxW = Math.round(textW + 68);
    const boxH = 68;
    const right = Math.round(a.right) - 9;
    const left = right - boxW;
    const top = Math.round(a.top) + 4;
    ctx.fillStyle = "#ffffff";
    ctx.fillRect(left, top, boxW, boxH);
    ctx.strokeStyle = "#000";
    ctx.strokeRect(left + 0.5, top + 0.5, boxW, boxH);
    ctx.textBaseline = "middle";
    ctx.textAlign = "left";
    legendLabels.forEach((t, i) => {
      const y = Math.round(top + 16 + i * 20.5);
      ctx.fillStyle = legendColors[i];
      ctx.fillRect(left + 10, y, 32, 1);
      ctx.fillStyle = "#000";
      ctx.fillText(t, left + 54, y + 0.5);
    });
    ctx.restore();
  },
};

export default function App() {
  const ref = useRef<HTMLCanvasElement | null>(null);
  useEffect(() => {
    if (!ref.current) return;
    const datasets = [
      ...makeSets(cevPaths, legendLabels[2], legendColors[2]),
      ...makeSets(cirPaths, legendLabels[1], legendColors[1]),
      ...makeSets(vasicekPaths, legendLabels[0], legendColors[0]),
    ];
    const chart = new Chart(ref.current, {
      type: "line",
      data: { datasets },
      options: {
        animation: false,
        responsive: false,
        devicePixelRatio: 1,
        events: [],
        layout: { padding: { left: 0, right: 57, top: 45, bottom: 0 } },
        plugins: {
          legend: { display: false },
          tooltip: { enabled: false },
          title: { display: false },
        },
        scales: {
          x: {
            type: "linear",
            min: 0,
            max: 250,
            grid: { display: false, drawTicks: false },
            border: { display: false },
            ticks: {
              stepSize: 50,
              autoSkip: false,
              maxRotation: 0,
              padding: 4,
              color: "#000",
              font: { family: FONT_FAMILY, size: 17 },
            },
            afterFit: (scale: any) => {
              scale.height = 56;
            },
          },
          y: {
            type: "linear",
            min: -0.05,
            max: 0.45,
            grid: { display: false, drawTicks: false },
            border: { display: false },
            ticks: {
              stepSize: 0.05,
              autoSkip: false,
              padding: 5,
              color: "#000",
              font: { family: FONT_FAMILY, size: 17 },
              callback: (v: any) => String(+Number(v).toFixed(2)),
            },
            afterFit: (scale: any) => {
              scale.width = 98;
            },
          },
        },
      },
      plugins: [matlabFrame],
    } as any);
    return () => chart.destroy();
  }, []);
  return (
    <div style={{ position: "absolute", left: 0, top: 0, width: 695, height: 525 }}>
      <canvas ref={ref} width={695} height={525} style={{ display: "block", width: 695, height: 525 }} />
    </div>
  );
}
